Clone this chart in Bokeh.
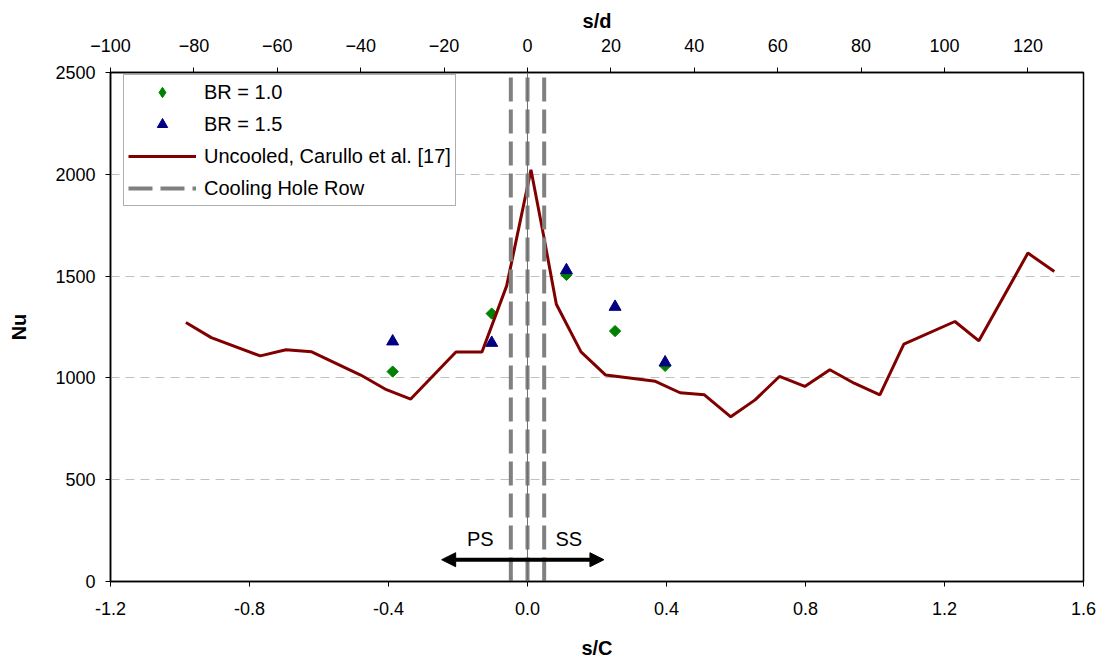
from bokeh.plotting import figure
from bokeh.models import (Range1d, LinearAxis, FixedTicker, NumeralTickFormatter,
                          Legend, LegendItem, Arrow, NormalHead, Span)
from bokeh.core.properties import value
from bokeh.embed import file_html
from bokeh.resources import INLINE
import math

# ---------------- data ----------------
sc_uncooled = [-0.983, -0.910, -0.769, -0.695, -0.621, -0.480, -0.406, -0.336,
               -0.206, -0.131, -0.060, 0.010, 0.047, 0.083, 0.154, 0.225,
               0.368, 0.439, 0.509, 0.585, 0.655, 0.725, 0.798, 0.870,
               0.940, 1.014, 1.083, 1.230, 1.299, 1.440, 1.516]
nu_uncooled = [1272, 1198, 1108, 1138, 1128, 1014, 942, 896,
               1127, 1127, 1452, 2022, 1693, 1362, 1128, 1014,
               983, 927, 917, 809, 892, 1007, 958, 1040,
               974, 917, 1166, 1277, 1182, 1613, 1523]

sc_br = [-0.388, -0.103, 0.112, 0.252, 0.396]
nu_br10 = [1031, 1316, 1506, 1230, 1059]
nu_br15 = [1179, 1172, 1529, 1349, 1076]

hole_sd = [-4, 0, 4]          # cooling hole row positions in s/d

sc_ticks = [-1.2, -0.8, -0.4, 0.0, 0.4, 0.8, 1.2, 1.6]
sd_ticks = [-100, -80, -60, -40, -20, 0, 20, 40, 60, 80, 100, 120]
nu_ticks = [0, 500, 1000, 1500, 2000, 2500]

arrow_sc = [-0.247, 0.220]
arrow_nu = 107
region_x = [-0.136, 0.119]
region_y = [210, 210]
region_text = ["PS", "SS"]

FONT = "Liberation Sans"

p = figure(width=1106, height=662, output_backend="svg", toolbar_location=None,
           x_range=Range1d(-1.2, 1.6), y_range=Range1d(0, 2500),
           min_border_left=110, min_border_right=23, min_border_top=72,
           min_border_bottom=81)
p.background_fill_color = "white"
p.border_fill_color = "white"
p.outline_line_color = "black"
p.outline_line_width = 1.5
p.extra_x_ranges = {"sd": Range1d(-100, 133.333)}

# grid
p.xgrid.visible = False
p.ygrid.ticker = FixedTicker(ticks=nu_ticks)
p.ygrid.grid_line_color = "#c0c0c0"
p.ygrid.grid_line_dash = "9 6"
p.ygrid.grid_line_width = 1

def style_axis(ax, ticks, label):
    ax.ticker = FixedTicker(ticks=ticks)
    ax.axis_label = label
    ax.axis_label_text_font = FONT
    ax.axis_label_text_font_style = "bold"
    ax.axis_label_text_font_size = "20px"
    ax.axis_label_text_color = "black"
    ax.major_label_text_font = FONT
    ax.major_label_text_font_size = "18px"
    ax.major_label_text_color = "black"
    ax.axis_line_color = "black"
    ax.axis_line_width = 1.5
    ax.major_tick_line_color = "black"
    ax.major_tick_out = 5
    ax.major_tick_in = 0
    ax.minor_tick_line_color = None

xb = p.xaxis[0]
style_axis(xb, sc_ticks, "s/C")
xb.formatter = NumeralTickFormatter(format="0.0")
xb.major_label_standoff = 15
xb.axis_label_standoff = 19

yl = p.yaxis[0]
style_axis(yl, nu_ticks, "Nu")
yl.major_label_standoff = 10
yl.axis_label_standoff = 22

top = LinearAxis(x_range_name="sd")
style_axis(top, sd_ticks, "s/d")
top.major_label_standoff = 16
top.axis_label_standoff = 4
p.add_layout(top, "above")

# data series
r10 = p.scatter(sc_br, nu_br10, marker="square", angle=math.pi / 4, size=8,
                fill_color="#008000", line_color="#008000")
r10_key = p.scatter([float("nan")], [float("nan")], marker="diamond", size=14,
                    fill_color="#008000", line_color="#008000")
r15 = p.scatter(sc_br, nu_br15, marker="triangle", size=12,
                fill_color="#000080", line_color="#000080")
rl = p.line(sc_uncooled, nu_uncooled, line_color="#800000", line_width=3)

# centre reference line
p.add_layout(Span(location=0, dimension="height", line_color="#707070", line_width=1))

rh = p.segment(x0=hole_sd, x1=hole_sd, y0=[0] * len(hole_sd), y1=[2500] * len(hole_sd),
               x_range_name="sd", line_color="#808080", line_width=4, line_dash="24 8")

# arrow and labels
p.add_layout(Arrow(start=NormalHead(size=14, fill_color="black", line_color="black"),
                   end=NormalHead(size=14, fill_color="black", line_color="black"),
                   x_start=arrow_sc[0], y_start=arrow_nu, x_end=arrow_sc[1], y_end=arrow_nu,
                   line_width=4, line_color="black"))
p.text(x=region_x, y=region_y, text=region_text, text_font=value(FONT),
       text_font_size="20px", text_align="center", text_baseline="middle",
       text_color="black")

legend = Legend(items=[LegendItem(label="BR = 1.0", renderers=[r10_key]),
                       LegendItem(label="BR = 1.5", renderers=[r15]),
                       LegendItem(label="Uncooled, Carullo et al. [17]", renderers=[rl]),
                       LegendItem(label="Cooling Hole Row", renderers=[rh])],
                location=(13, 375))
legend.label_text_font = FONT
legend.label_text_font_size = "20px"
legend.label_text_color = "black"
legend.glyph_width = 68
legend.glyph_height = 26
legend.label_height = 26
legend.spacing = 6
legend.padding = 4
legend.margin = 0
legend.label_standoff = 8
legend.border_line_color = "#606060"
legend.border_line_width = 1
legend.background_fill_color = "white"
legend.background_fill_alpha = 1
p.add_layout(legend, "center")

open("out.html", "w").write(file_html(p, INLINE))
